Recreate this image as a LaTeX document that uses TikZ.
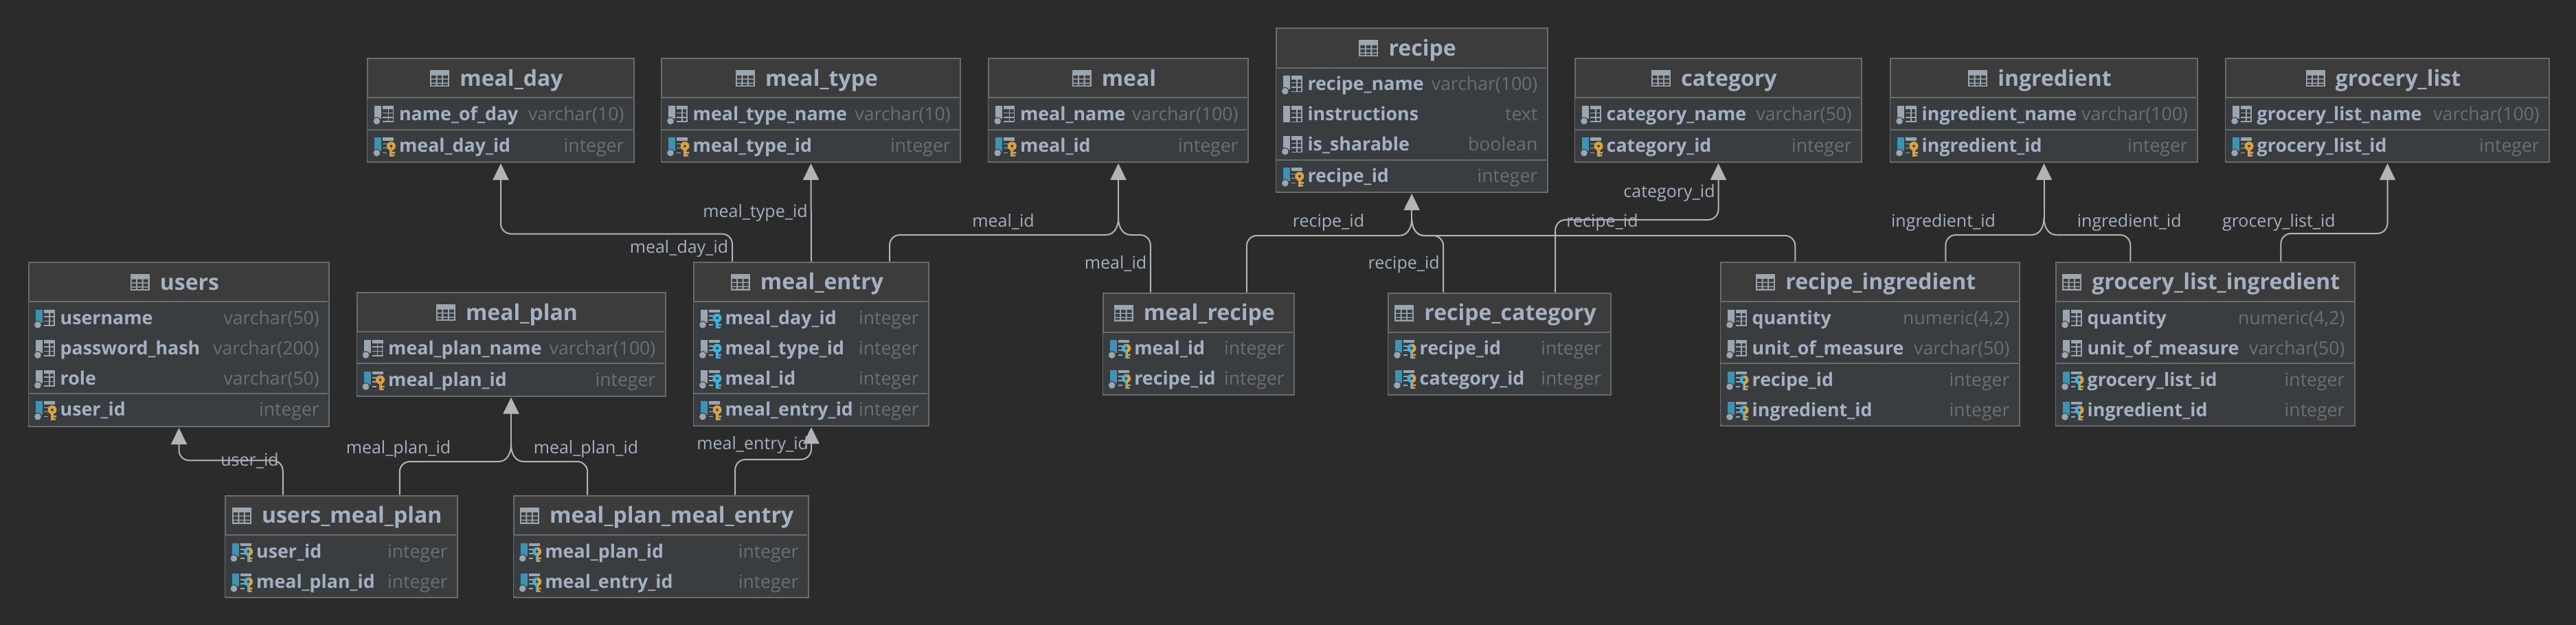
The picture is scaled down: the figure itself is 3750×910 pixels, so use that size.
\documentclass[tikz,border=0pt]{standalone}
\usepackage{fontspec}
\setmainfont{Open Sans}
\usetikzlibrary{arrows.meta,calc}
\definecolor{bgc}{HTML}{2B2B2B}
\definecolor{hdrc}{HTML}{3C3C3C}
\definecolor{bodyc}{HTML}{3A3D40}
\definecolor{edgec}{HTML}{6B6B6B}
\definecolor{txtc}{HTML}{A3B1C2}
\definecolor{typec}{HTML}{6E6E6E}
\definecolor{iconc}{HTML}{9AA7B0}
\definecolor{barc}{HTML}{3E93B5}
\definecolor{goldc}{HTML}{D9A343}
\definecolor{keyc}{HTML}{3DB2E0}
\definecolor{linkc}{HTML}{B4B4B4}
\newcommand{\titlefnt}{\fontsize{32}{36}\selectfont\bfseries}
\newcommand{\namefnt}{\fontsize{26.8}{32}\selectfont\bfseries}
\newcommand{\typefnt}{\fontsize{26.6}{32}\selectfont}
\newcommand{\lblfnt}{\fontsize{25}{30}\selectfont}
\tikzset{
  tablebox/.style={draw=edgec,line width=2pt,fill=hdrc,anchor=north west,inner sep=0pt,rectangle},
  titletext/.style={anchor=base,inner sep=0pt,text=txtc,font=\titlefnt},
  nametext/.style={anchor=base west,inner sep=0pt,text=txtc,font=\namefnt},
  typetext/.style={anchor=base east,inner sep=0pt,text=typec,font=\typefnt},
  lbl/.style={anchor=base,inner sep=0pt,text=txtc,font=\lblfnt},
  link/.style={draw=linkc,line width=2pt},
  linkhead/.style={link,-{Triangle[length=24pt,width=23pt,fill=linkc]}},
  elbow/.style={link,rounded corners=15pt}
}
% table frame: id,x0,y0,x1,y1,header y,title
\newcommand{\tbl}[7]{%
  \pgfmathsetmacro{\tw}{#4-#2}\pgfmathsetmacro{\th}{#5-#3}%
  \pgfmathsetmacro{\tcx}{(#2+#4)/2+16.5}\pgfmathsetmacro{\tby}{#3+41}%
  \node[tablebox,minimum width=\tw pt,minimum height=\th pt] (#1) at (#2,#3) {};
  \fill[bodyc] (#2+1,#6) rectangle (#4-1,#5-1);
  \draw[edgec,line width=2pt] (#2+1,#6) -- (#4-1,#6);
  \node[titletext] (#1-title) at (\tcx,\tby) {#7};
  \tabglyph{#1-title}
}
\newcommand{\tabglyph}[1]{%
  \begin{scope}[shift={($(#1.base west)+(-43,0)$)}]
    \fill[iconc] (0,-23) rectangle (28,1);
    \fill[hdrc] (2,-15.5) rectangle (8.5,-11) (10.5,-15.5) rectangle (17,-11) (19,-15.5) rectangle (26,-11)
                (2,-9.5) rectangle (8.5,-5) (10.5,-9.5) rectangle (17,-5) (19,-9.5) rectangle (26,-5)
                (2,-3.5) rectangle (8.5,-1) (10.5,-3.5) rectangle (17,-1) (19,-3.5) rectangle (26,-1);
  \end{scope}
}
\newcommand{\hsep}[3]{\draw[edgec,line width=2pt] (#1+1,#3) -- (#2-1,#3);}
% icon pieces; origin at (icon x, row baseline-8)
\newcommand{\barpart}[1]{%
  \fill[#1] (2,-13.5) rectangle (12,6);
  \fill[iconc,draw=bodyc,line width=1pt] (5,9) circle (5.5);
}
\newcommand{\gridpart}{%
  \fill[iconc] (14,-13.5) rectangle (30,-8);
  \draw[iconc,line width=1.5pt] (22,-8) -- (22,10.5) (29.2,-8) -- (29.2,10.5)
     (14,-3) -- (30,-3) (14,3.5) -- (30,3.5) (14,9.8) -- (30,9.8);
}
\newcommand{\dashpart}{%
  \fill[iconc] (14,-13.5) rectangle (30,-9);
  \draw[iconc,line width=1.5pt] (14,-4) -- (23,-4) (14,2) -- (21,2) (14,9) -- (20,9);
}
\newcommand{\keypart}[2]{%
  \begin{scope}
    \clip (10,-15) rectangle (26,20);
    \fill[#1,even odd rule] (26,-1) circle (6.5) (26,-1) circle (2);
    \fill[#1] (24,4) rectangle (28,14);
  \end{scope}
  \begin{scope}
    \clip (26,-15) rectangle (40,20);
    \fill[#2,even odd rule] (26,-1) circle (6.5) (26,-1) circle (2);
    \fill[#2] (24,4) rectangle (28,14);
  \end{scope}
  \fill[#2] (26,7.5) rectangle (32,10) (26,11.5) rectangle (31,14);
}
% row: id,x0,x1,baseline,kind,name,type
\newcommand{\rowp}[7]{% kind: g grey, u unique (blue bar), n no dot, p pk, f fk, b pk+fk
  \begin{scope}[shift={(#2+9,#4-8)}]\csname icon#5\endcsname\end{scope}
  \node[nametext] (#1) at (#2+46.5,#4) {#6};
  \node[typetext] (#1-t) at (#3-13,#4) {#7};
}
\newcommand{\icong}{\barpart{iconc}\gridpart}
\newcommand{\iconu}{\barpart{barc}\gridpart}
\newcommand{\iconn}{\fill[iconc] (2,-13.5) rectangle (12,10.5);\gridpart}
\newcommand{\iconp}{\barpart{barc}\dashpart\keypart{goldc}{goldc}}
\newcommand{\iconf}{\barpart{iconc}\dashpart\keypart{keyc}{keyc}}
\newcommand{\iconb}{\barpart{barc}\dashpart\keypart{keyc}{goldc}}
% merged branch: start, junction, side sign
\newcommand{\branch}[3]{%
  \draw[elbow] (#1) |- ($(#2)+(#3*18,24)$);
  \draw[link] ($(#2)+(#3*18,24)$) .. controls ($(#2)+(#3*6,24)$) and ($(#2)+(0,12)$) .. (#2);
}
\begin{document}
\begin{tikzpicture}[x=1pt,y=-1pt]
\useasboundingbox (0,0) rectangle (3750,910);
\fill[bgc] (0,0) rectangle (3750,910);

% users
\tbl{users}{41}{381}{478}{620}{439}{users}
\rowp{users-1}{41}{478}{472}{u}{username}{varchar(50)}
\rowp{users-2}{41}{478}{516}{g}{password\_hash}{varchar(200)}
\rowp{users-3}{41}{478}{560}{g}{role}{varchar(50)}
\hsep{41}{478}{572.7}
\rowp{users-4}{41}{478}{605.7}{p}{user\_id}{integer}
% meal_plan
\tbl{mealplan}{518.5}{425}{967.5}{575.5}{483}{meal\_plan}
\rowp{mealplan-1}{518.5}{967.5}{516}{g}{meal\_plan\_name}{varchar(100)}
\hsep{518.5}{967.5}{529}
\rowp{mealplan-2}{518.5}{967.5}{562}{p}{meal\_plan\_id}{integer}
% users_meal_plan
\tbl{ump}{326.5}{720.7}{665}{869.3}{779}{users\_meal\_plan}
\rowp{ump-1}{326.5}{665}{812}{b}{user\_id}{integer}
\rowp{ump-2}{326.5}{665}{856}{b}{meal\_plan\_id}{integer}
% meal_plan_meal_entry
\tbl{mpme}{746.7}{720.7}{1175.7}{869.3}{779}{meal\_plan\_meal\_entry}
\rowp{mpme-1}{746.7}{1175.7}{812}{b}{meal\_plan\_id}{integer}
\rowp{mpme-2}{746.7}{1175.7}{856}{b}{meal\_entry\_id}{integer}
% meal_day
\tbl{mealday}{534.4}{84.3}{921.6}{235}{142.3}{meal\_day}
\rowp{mealday-1}{534.4}{921.6}{175.3}{g}{name\_of\_day}{varchar(10)}
\hsep{534.4}{921.6}{188.7}
\rowp{mealday-2}{534.4}{921.6}{221.7}{p}{meal\_day\_id}{integer}
% meal_type
\tbl{mealtype}{962}{84.3}{1397}{235}{142.3}{meal\_type}
\rowp{mealtype-1}{962}{1397}{175.3}{g}{meal\_type\_name}{varchar(10)}
\hsep{962}{1397}{188.7}
\rowp{mealtype-2}{962}{1397}{221.7}{p}{meal\_type\_id}{integer}
% meal
\tbl{meal}{1438.3}{84.3}{1815.7}{235}{142.3}{meal}
\rowp{meal-1}{1438.3}{1815.7}{175.3}{g}{meal\_name}{varchar(100)}
\hsep{1438.3}{1815.7}{188.7}
\rowp{meal-2}{1438.3}{1815.7}{221.7}{p}{meal\_id}{integer}
% recipe
\tbl{recipe}{1856.8}{40.3}{2251.5}{279}{98.7}{recipe}
\rowp{recipe-1}{1856.8}{2251.5}{131.7}{g}{recipe\_name}{varchar(100)}
\rowp{recipe-2}{1856.8}{2251.5}{175.7}{n}{instructions}{text}
\rowp{recipe-3}{1856.8}{2251.5}{219.7}{g}{is\_sharable}{boolean}
\hsep{1856.8}{2251.5}{232.7}
\rowp{recipe-4}{1856.8}{2251.5}{265.7}{p}{recipe\_id}{integer}
% category
\tbl{category}{2292}{84.3}{2709}{235}{142.3}{category}
\rowp{category-1}{2292}{2709}{175.3}{g}{category\_name}{varchar(50)}
\hsep{2292}{2709}{188.7}
\rowp{category-2}{2292}{2709}{221.7}{p}{category\_id}{integer}
% ingredient
\tbl{ingredient}{2751}{84.3}{3198}{235}{142.3}{ingredient}
\rowp{ingredient-1}{2751}{3198}{175.3}{g}{ingredient\_name}{varchar(100)}
\hsep{2751}{3198}{188.7}
\rowp{ingredient-2}{2751}{3198}{221.7}{p}{ingredient\_id}{integer}
% grocery_list
\tbl{grocery}{3239}{84.3}{3710}{235}{142.3}{grocery\_list}
\rowp{grocery-1}{3239}{3710}{175.3}{g}{grocery\_list\_name}{varchar(100)}
\hsep{3239}{3710}{188.7}
\rowp{grocery-2}{3239}{3710}{221.7}{p}{grocery\_list\_id}{integer}
% meal_entry
\tbl{entry}{1009}{380.5}{1351}{619}{439}{meal\_entry}
\rowp{entry-1}{1009}{1351}{472}{f}{meal\_day\_id}{integer}
\rowp{entry-2}{1009}{1351}{516}{f}{meal\_type\_id}{integer}
\rowp{entry-3}{1009}{1351}{560}{f}{meal\_id}{integer}
\hsep{1009}{1351}{572.7}
\rowp{entry-4}{1009}{1351}{605.7}{p}{meal\_entry\_id}{integer}
% meal_recipe
\tbl{mealrecipe}{1604.6}{425.7}{1883}{574}{484}{meal\_recipe}
\rowp{mealrecipe-1}{1604.6}{1883}{516}{b}{meal\_id}{integer}
\rowp{mealrecipe-2}{1604.6}{1883}{560}{b}{recipe\_id}{integer}
% recipe_category
\tbl{reccat}{2020}{425.7}{2344.3}{574}{484}{recipe\_category}
\rowp{reccat-1}{2020}{2344.3}{516}{b}{recipe\_id}{integer}
\rowp{reccat-2}{2020}{2344.3}{560}{b}{category\_id}{integer}
% recipe_ingredient
\tbl{recing}{2504}{380.7}{2938.6}{619}{439}{recipe\_ingredient}
\rowp{recing-1}{2504}{2938.6}{472}{g}{quantity}{numeric(4,2)}
\rowp{recing-2}{2504}{2938.6}{516}{g}{unit\_of\_measure}{varchar(50)}
\hsep{2504}{2938.6}{529}
\rowp{recing-3}{2504}{2938.6}{562}{b}{recipe\_id}{integer}
\rowp{recing-4}{2504}{2938.6}{606}{b}{ingredient\_id}{integer}
% grocery_list_ingredient
\tbl{grocing}{2992}{380.7}{3426.6}{619}{439}{grocery\_list\_ingredient}
\rowp{grocing-1}{2992}{3426.6}{472}{g}{quantity}{numeric(4,2)}
\rowp{grocing-2}{2992}{3426.6}{516}{g}{unit\_of\_measure}{varchar(50)}
\hsep{2992}{3426.6}{529}
\rowp{grocing-3}{2992}{3426.6}{562}{b}{grocery\_list\_id}{integer}
\rowp{grocing-4}{2992}{3426.6}{606}{b}{ingredient\_id}{integer}

% connectors
\draw[elbow,linkhead] ([xshift=-85pt]ump.north) -- ++(0,-50.3) -| ([yshift=-1pt]users.south);
\coordinate (jplan) at ([yshift=-70.5pt]mealplan.south);
\draw[linkhead] (jplan) -- ([yshift=-1pt]mealplan.south);
\branch{[xshift=85pt]ump.north}{jplan}{-1}
\branch{[xshift=-107pt]mpme.north}{jplan}{1}
\draw[elbow,linkhead] ([xshift=108pt]mpme.north) -- ++(0,-51.7) -| ([yshift=-1pt]entry.south);
\draw[elbow,linkhead] ([xshift=-115pt]entry.north) -- ++(0,-40) -| ([yshift=-1pt]mealday.south);
\draw[linkhead] (entry.north) -- ([yshift=-1pt]mealtype.south);
\coordinate (jmeal) at ([yshift=-81pt]meal.south);
\draw[linkhead] (jmeal) -- ([yshift=-1pt]meal.south);
\branch{[xshift=114pt]entry.north}{jmeal}{-1}
\branch{[xshift=-70pt]mealrecipe.north}{jmeal}{1}
\coordinate (jrecipe) at ([yshift=-38pt]recipe.south);
\draw[linkhead] (jrecipe) -- ([yshift=-1pt]recipe.south);
\branch{[xshift=70pt]mealrecipe.north}{jrecipe}{-1}
\branch{[xshift=-82pt]reccat.north}{jrecipe}{1}
\branch{[xshift=-109pt]recing.north}{jrecipe}{1}
\draw[elbow,linkhead] ([xshift=81pt]reccat.north) -- ++(0,-105.7) -| ([yshift=-1pt]category.south);
\coordinate (jing) at ([yshift=-81pt]ingredient.south);
\draw[linkhead] (jing) -- ([yshift=-1pt]ingredient.south);
\branch{[xshift=110pt]recing.north}{jing}{-1}
\branch{[xshift=-109pt]grocing.north}{jing}{1}
\draw[elbow,linkhead] ([xshift=110pt]grocing.north) -- ++(0,-40.7) -| ([yshift=-1pt]grocery.south);

% connector labels
\node[lbl] (l1) at (363.5,678) {user\_id};
\node[lbl] (l2) at (580,660) {meal\_plan\_id};
\node[lbl] (l3) at (853,660) {meal\_plan\_id};
\node[lbl] (l4) at (1095.7,654) {meal\_entry\_id};
\node[lbl] (l5) at (988.5,368) {meal\_day\_id};
\node[lbl] (l6) at (1099.5,316) {meal\_type\_id};
\node[lbl] (l7) at (1460.5,330) {meal\_id};
\node[lbl] (l8) at (1624,391) {meal\_id};
\node[lbl] (l9) at (1934,330) {recipe\_id};
\node[lbl] (l10) at (2043.6,391) {recipe\_id};
\node[lbl] (l11) at (2332.5,330) {recipe\_id};
\node[lbl] (l12) at (2430,287) {category\_id};
\node[lbl] (l13) at (2829,330) {ingredient\_id};
\node[lbl] (l14) at (3099.7,330) {ingredient\_id};
\node[lbl] (l15) at (3317.4,330) {grocery\_list\_id};
\end{tikzpicture}
\end{document}
